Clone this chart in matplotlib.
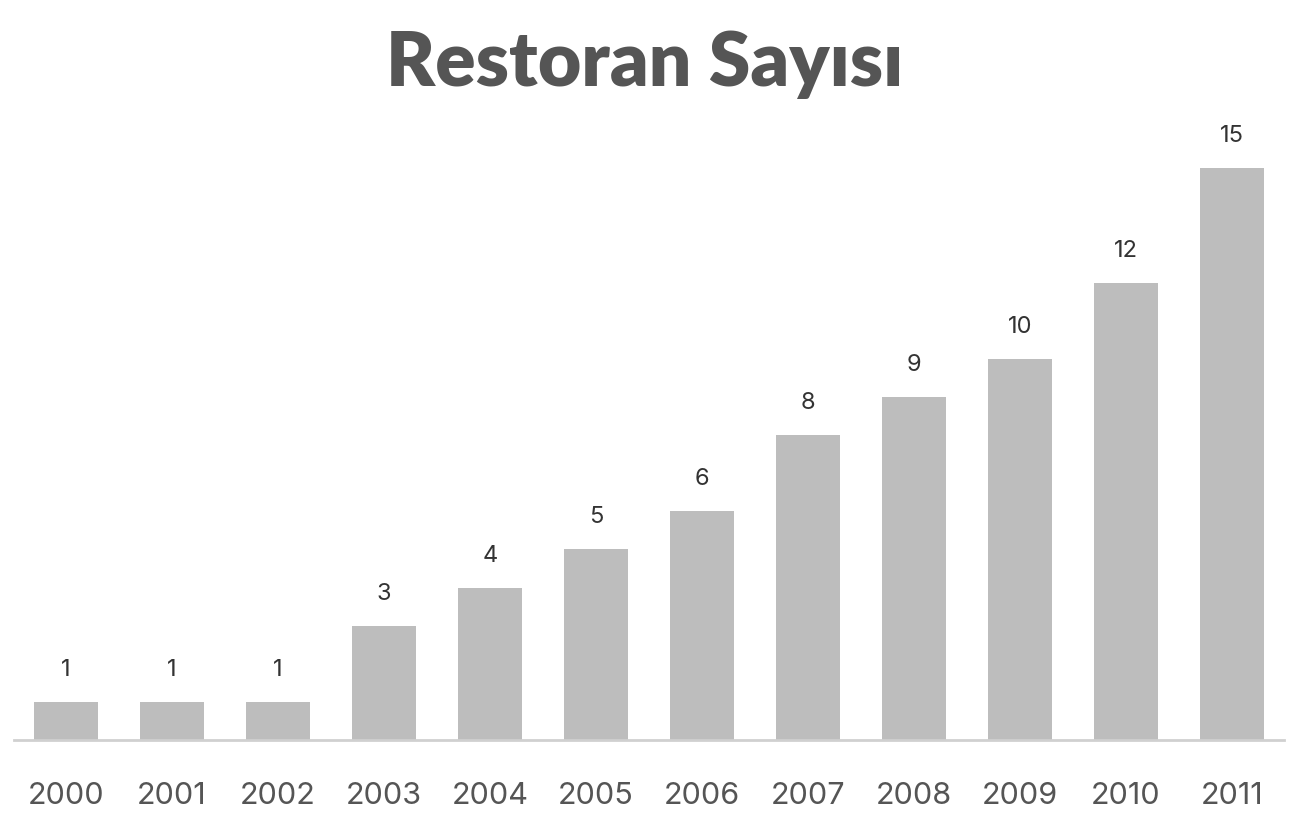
import matplotlib
matplotlib.use("Agg")
import matplotlib.pyplot as plt

years = ["2000", "2001", "2002", "2003", "2004", "2005", "2006", "2007", "2008", "2009", "2010", "2011"]
counts = [1, 1, 1, 3, 4, 5, 6, 8, 9, 10, 12, 15]
title = "Restoran Sayısı"

fig = plt.figure(figsize=(12.9, 8.32), dpi=100)
fig.patch.set_facecolor("white")
ax = fig.add_axes([14/1290, (832-740)/832, 1270/1290, 629/832])

x = list(range(len(years)))
bars = ax.bar(x, counts, width=0.61, color="#bdbdbd", zorder=2)

ax.set_xlim(-0.49, len(years) - 0.51)
ax.set_ylim(0, 16.5)

for xi, v in zip(x, counts):
    ax.annotate(str(v), (xi, v), xytext=(0, 23), textcoords="offset points",
                ha="center", va="center", fontsize=17, color="#333333",
                family=["Inter", "DejaVu Sans"])

for s in ["top", "right", "left"]:
    ax.spines[s].set_visible(False)
ax.spines["bottom"].set_color("#d0d0d0")
ax.spines["bottom"].set_linewidth(2)
ax.set_yticks([])
ax.set_xticks(x)
ax.set_xticklabels(years, fontsize=22, color="#555555", family=["Inter", "DejaVu Sans"])
ax.tick_params(axis="x", length=0, pad=30)

fig.text(0.5, 1 - 64/832, title, ha="center", va="center", fontsize=54,
         fontweight="heavy", color="#555555", family=["Lato", "DejaVu Sans"])

fig.savefig("out.png", dpi=100, facecolor="white")
